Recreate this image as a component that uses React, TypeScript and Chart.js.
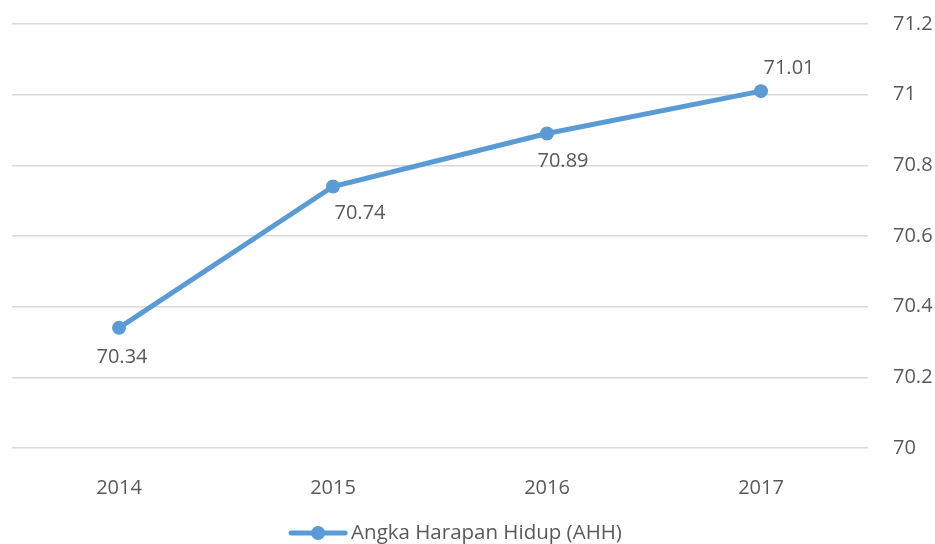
import React, { useEffect, useRef } from "react";
import { Chart, registerables } from "chart.js";

Chart.register(...registerables);

const categories = ["2014", "2015", "2016", "2017"];
const ahhValues = [70.34, 70.74, 70.89, 71.01];
const seriesLabel = "Angka Harapan Hidup (AHH)";
const yMin = 70;
const yMax = 71.2;
const yStep = 0.2;

// label placement (Excel-like), per point: [dx, dy]
const labelOffsets: [number, number][] = [
  [3, 29],
  [27, 27],
  [16, 28],
  [28, -23],
];

const FONT = "'Open Sans', Lato, sans-serif";
const TEXT = "#595959";
const BLUE = "#5B9BD5";

const dataLabelPlugin = {
  id: "dataLabels",
  afterDatasetsDraw(chart: any) {
    const ctx = chart.ctx;
    const meta = chart.getDatasetMeta(0);
    ctx.save();
    ctx.font = `20px ${FONT}`;
    ctx.fillStyle = TEXT;
    ctx.textAlign = "center";
    ctx.textBaseline = "middle";
    meta.data.forEach((pt: any, i: number) => {
      const [dx, dy] = labelOffsets[i];
      ctx.fillText(String(ahhValues[i]), pt.x + dx, pt.y + dy);
    });
    ctx.restore();
  },
};

const legendPlugin = {
  id: "customLegend",
  afterDraw(chart: any) {
    const ctx = chart.ctx;
    ctx.save();
    ctx.font = `20.5px ${FONT}`;
    const tw = ctx.measureText(seriesLabel).width;
    const lineW = 54;
    const gap = 6;
    const total = lineW + gap + tw;
    const x0 = (chart.width - total) / 2 - 11;
    const y = 533;
    ctx.strokeStyle = BLUE;
    ctx.lineWidth = 5;
    ctx.lineCap = "round";
    ctx.beginPath();
    ctx.moveTo(x0, y);
    ctx.lineTo(x0 + lineW, y);
    ctx.stroke();
    ctx.fillStyle = BLUE;
    ctx.beginPath();
    ctx.arc(x0 + lineW / 2, y, 7, 0, Math.PI * 2);
    ctx.fill();
    ctx.fillStyle = TEXT;
    ctx.textAlign = "left";
    ctx.textBaseline = "middle";
    ctx.fillText(seriesLabel, x0 + lineW + gap, y);
    ctx.restore();
  },
};

export default function App() {
  const ref = useRef<HTMLCanvasElement | null>(null);
  useEffect(() => {
    if (!ref.current) return;
    const chart = new Chart(ref.current, {
      type: "line",
      data: {
        labels: categories,
        datasets: [
          {
            label: seriesLabel,
            data: ahhValues,
            borderColor: BLUE,
            backgroundColor: BLUE,
            borderWidth: 5,
            pointRadius: 7,
            pointHoverRadius: 7,
            pointBackgroundColor: BLUE,
            pointBorderColor: BLUE,
            pointBorderWidth: 0,
            tension: 0,
          },
        ],
      },
      options: {
        animation: false,
        responsive: false,
        maintainAspectRatio: false,
        layout: { padding: { left: 12, top: 24, right: 0, bottom: 0 } },
        plugins: {
          legend: { display: false },
          tooltip: { enabled: false },
        },
        scales: {
          x: {
            offset: true,
            grid: { display: false },
            border: { display: false },
            ticks: {
              color: TEXT,
              font: { family: FONT, size: 20 },
              padding: 20,
              maxRotation: 0,
            },
            afterFit: (scale: any) => {
              scale.height = 96;
              scale.paddingLeft = 0;
              scale.paddingRight = 0;
            },
          },
          y: {
            position: "right",
            min: yMin,
            max: yMax,
            grid: { color: "#D9D9D9", lineWidth: 1.5, drawTicks: false },
            border: { display: false },
            ticks: {
              stepSize: yStep,
              color: TEXT,
              font: { family: FONT, size: 20 },
              padding: 25,
              callback: (v: any) => String(Math.round(Number(v) * 10) / 10),
            },
            afterFit: (scale: any) => {
              scale.width = 67;
              scale.paddingTop = 0;
              scale.paddingBottom = 0;
            },
          },
        },
      },
      plugins: [dataLabelPlugin, legendPlugin],
    });
    return () => chart.destroy();
  }, []);
  return (
    <div style={{ position: "absolute", left: 0, top: 0, width: 935, height: 544, background: "#fff" }}>
      <canvas ref={ref} width={935} height={544} style={{ width: 935, height: 544 }} />
    </div>
  );
}
